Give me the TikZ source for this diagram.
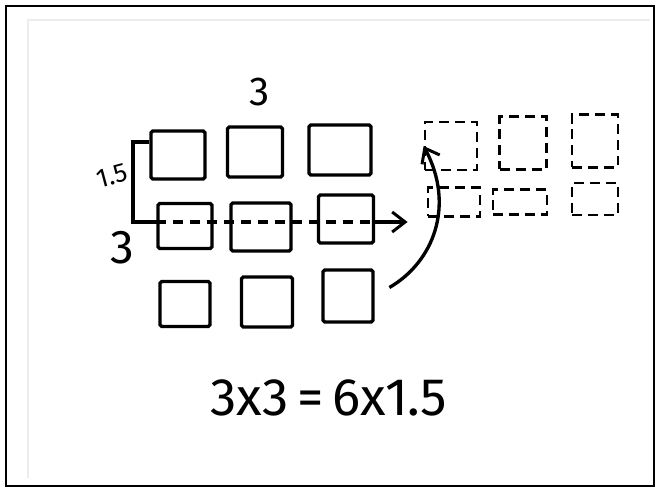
\documentclass[tikz,border=0pt]{standalone}
\usepackage{fontspec}
\setmainfont{Fira Sans}
\usetikzlibrary{arrows.meta}

\begin{document}
\begin{tikzpicture}[
  x=0.02cm, y=0.02cm,
  sq/.style={draw, line width=1.9pt, inner sep=0pt, rounded corners=1pt},
  dsq/.style={draw, line width=1.6pt, inner sep=0pt, dash pattern=on 0.2cm off 0.12cm},
  pen/.style={line width=1.9pt},
  tip/.style={-{Straight Barb[length=2.6mm, width=4mm, line width=1.7pt]}},
  num/.style={inner sep=0pt}
]
\useasboundingbox (0,0) rectangle (656,488);
% sheet edges
\draw[black!7, line width=0.6pt] (28,10) -- (28,468) -- (650,468);
\draw[line width=1.2pt] (6,2) rectangle (654,482);

% 3 x 3 squares
\node[sq, minimum width=1.08cm, minimum height=0.96cm] (a1) at (178,333) {};
\node[sq, minimum width=1.10cm, minimum height=1.00cm] (a2) at (255,336) {};
\node[sq, minimum width=1.24cm, minimum height=1.00cm] (a3) at (340,338) {};
\node[sq, minimum width=1.08cm, minimum height=0.90cm] (b1) at (185,262) {};
\node[sq, minimum width=1.20cm, minimum height=0.96cm] (b2) at (261,261) {};
\node[sq, minimum width=1.10cm, minimum height=0.96cm] (b3) at (346,269) {};
\node[sq, minimum width=1.00cm, minimum height=0.90cm] (c1) at (185,184) {};
\node[sq, minimum width=1.02cm, minimum height=1.00cm] (c2) at (267,186) {};
\node[sq, minimum width=1.00cm, minimum height=1.04cm] (c3) at (348,192) {};

% halves moved to the right
\node[dsq, minimum width=1.04cm, minimum height=0.96cm] (d1) at (451,342) {};
\node[dsq, minimum width=0.94cm, minimum height=1.06cm] (d2) at (523,345) {};
\node[dsq, minimum width=0.92cm, minimum height=1.06cm] (d3) at (595,347) {};
\node[dsq, minimum width=1.04cm, minimum height=0.58cm] (e1) at (454,286) {};
\node[dsq, minimum width=1.08cm, minimum height=0.50cm] (e2) at (520,286) {};
\node[dsq, minimum width=0.92cm, minimum height=0.64cm] (e3) at (595,289) {};

% bracket and cut line
\coordinate (brt) at (133,346);
\coordinate (brk) at (133,266);
\draw[pen] (a1.west |- brt) -- (brt) -- (brk) -- (b1.west |- brk);
\draw[pen, dash pattern=on 0.2cm off 0.14cm] (b1.west |- brk) -- (b3.east |- brk);
\draw[pen, tip, shorten >=0.38cm] (b3.east |- brk) -- (e1.west |- brk);
\draw[pen, tip, shorten <=0.34cm] (c3.east) to[out=30, in=-62, looseness=1.1] (d1.west);

% labels
\node[num, font=\fontsize{23}{23}\selectfont] (top) at (260,396) {3};
\node[num, font=\fontsize{27}{27}\selectfont] (side) at (122,240) {3};
\node[num, font=\fontsize{15}{15}\selectfont, rotate=15] (half) at (112,312) {1.5};
\node[num, font=\fontsize{30}{30}\selectfont] (eq) at (329,90) {3x3\,=\,6x1.5};
\end{tikzpicture}
\end{document}
